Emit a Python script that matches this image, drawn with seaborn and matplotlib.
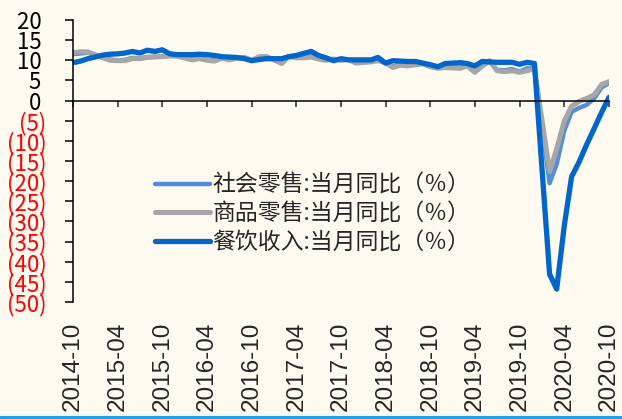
import matplotlib
matplotlib.use('Agg')
import pandas as pd
import matplotlib.pyplot as plt
import matplotlib.dates as mdates
import seaborn as sns
from matplotlib.lines import Line2D

# 월별 (1월은 1-2월 합산이라 빠짐)
months = (['2014-10', '2014-11', '2014-12']
          + [f'2015-{m:02d}' for m in range(2, 13)]
          + [f'2016-{m:02d}' for m in range(2, 13)]
          + [f'2017-{m:02d}' for m in range(2, 13)]
          + [f'2018-{m:02d}' for m in range(2, 13)]
          + [f'2019-{m:02d}' for m in range(2, 13)]
          + [f'2020-{m:02d}' for m in range(2, 11)])

retail_total = [11.5, 11.7, 11.9,
                10.7, 10.2, 10.0, 10.1, 10.6, 10.5, 10.8, 10.9, 11.0, 11.2, 11.1,
                10.2, 10.5, 10.1, 10.0, 10.6, 10.2, 10.6, 10.7, 10.0, 10.8, 10.9,
                9.5, 10.9, 10.7, 10.7, 11.0, 10.4, 10.1, 10.3, 10.0, 10.2, 9.4,
                9.7, 10.1, 9.4, 8.5, 9.0, 8.8, 9.0, 9.2, 8.6, 8.1, 8.2,
                8.2, 8.7, 7.2, 8.6, 9.8, 7.6, 7.5, 7.8, 7.2, 8.0, 8.0,
                -20.5, -15.8, -7.5, -2.8, -1.8, -1.1, 0.5, 3.3, 4.3]

retail_goods = [11.9, 12.1, 12.1,
                10.6, 10.0, 9.9, 9.9, 10.4, 10.4, 10.7, 10.8, 10.9, 11.1, 11.0,
                10.1, 10.4, 10.0, 9.8, 10.5, 10.1, 10.5, 10.7, 10.0, 10.9, 10.9,
                9.2, 10.9, 10.6, 10.6, 10.8, 10.3, 10.0, 10.3, 10.0, 10.2, 9.3,
                9.6, 9.9, 9.4, 8.2, 8.8, 8.6, 8.9, 9.1, 8.4, 8.0, 8.2,
                8.0, 8.6, 7.0, 8.5, 9.9, 7.4, 7.2, 7.4, 7.0, 7.4, 7.9,
                -17.6, -12.0, -5.1, -1.4, -0.2, 0.5, 1.4, 4.0, 4.7]

catering = [9.4, 9.8, 10.4,
            11.3, 11.5, 11.6, 11.8, 12.2, 11.8, 12.5, 12.2, 12.6, 11.6, 11.4,
            11.4, 11.5, 11.4, 11.2, 10.9, 10.8, 10.7, 10.4, 9.9, 10.2, 10.4,
            10.4, 10.9, 11.2, 11.7, 12.2, 11.2, 10.6, 9.9, 10.4, 10.1, 10.1,
            10.1, 10.7, 9.3, 9.9, 9.8, 9.7, 9.7, 9.3, 8.9, 8.4, 9.2,
            9.4, 9.2, 8.6, 9.7, 9.6, 9.5, 9.5, 9.5, 9.0, 9.5, 9.2,
            -43.1, -46.8, -31.1, -18.9, -15.2, -11.0, -7.0, -2.9, 0.8]

tick_months = ['2014-10', '2015-04', '2015-10', '2016-04', '2016-10', '2017-04', '2017-10',
               '2018-04', '2018-10', '2019-04', '2019-10', '2020-04', '2020-10']

df = pd.DataFrame({'date': pd.to_datetime(months),
                   '社会零售': retail_total,
                   '商品零售': retail_goods,
                   '餐饮收入': catering})

sns.set_style('white')
plt.rcParams['font.family'] = ['Noto Sans CJK SC', 'DejaVu Sans']
plt.rcParams['axes.unicode_minus'] = False

bg = '#FEFAF0'
fig = plt.figure(figsize=(6.22, 4.19), dpi=100, facecolor=bg)
ax = fig.add_axes([73 / 622, 117 / 419, 536 / 622, 282 / 419], facecolor=bg)

sns.lineplot(ax=ax, data=df, x='date', y='社会零售', color='#558ED5', linewidth=3.2,
             label='社会零售:当月同比（％）')
sns.lineplot(ax=ax, data=df, x='date', y='商品零售', color='#A6A6A6', linewidth=3.6,
             label='商品零售:当月同比（％）')
sns.lineplot(ax=ax, data=df, x='date', y='餐饮收入', color='#0066CC', linewidth=3.8,
             label='餐饮收入:当月同比（％）')

tick_dates = mdates.date2num(pd.to_datetime(tick_months))
ax.set_xlim(tick_dates[0], tick_dates[-1])
ax.set_ylim(-50, 20)
ax.set_xlabel('')
ax.set_ylabel('')

# y축: 음수는 빨간 괄호 표기
yticks = list(range(-50, 25, 5))
ylabels = [f'({-v})' if v < 0 else f'{v} ' for v in yticks]
ax.set_yticks(yticks, ylabels)
ax.tick_params(axis='y', direction='out', length=6, width=1.1, pad=13,
               labelsize=16, left=True, colors='black')
for lab, v in zip(ax.get_yticklabels(), yticks):
    lab.set_color('red' if v < 0 else 'black')

# x축 선은 0 위치에
ax.spines['top'].set_visible(False)
ax.spines['right'].set_visible(False)
ax.spines['left'].set_color('black')
ax.spines['left'].set_linewidth(1.1)
ax.spines['bottom'].set_position(('data', 0))
ax.spines['bottom'].set_color('black')
ax.spines['bottom'].set_linewidth(1.1)
ax.set_xticks(tick_dates, [''] * len(tick_dates))
ax.tick_params(axis='x', direction='out', length=4, width=1.1, bottom=True)

# 날짜 라벨은 아래쪽에
sec = ax.secondary_xaxis('bottom')
sec.set_xticks(tick_dates, tick_months)
sec.spines['bottom'].set_visible(False)
sec.tick_params(axis='x', length=0, pad=14, labelsize=17.5, labelrotation=90)
for lab in sec.get_xticklabels():
    lab.set_fontfamily(['Liberation Sans', 'DejaVu Sans'])

leg = ax.legend(loc='center left', bbox_to_anchor=(155 / 622, 1 - 214 / 419),
                bbox_transform=fig.transFigure, frameon=False, fontsize=16.5,
                borderpad=0, borderaxespad=0, handlelength=2.4, handletextpad=0.1,
                labelspacing=0.25)

fig.add_artist(Line2D([0, 1], [0.004, 0.004], transform=fig.transFigure,
                      color='#1E9FE8', linewidth=2.2))

fig.savefig('out.png', dpi=100, facecolor=bg)
